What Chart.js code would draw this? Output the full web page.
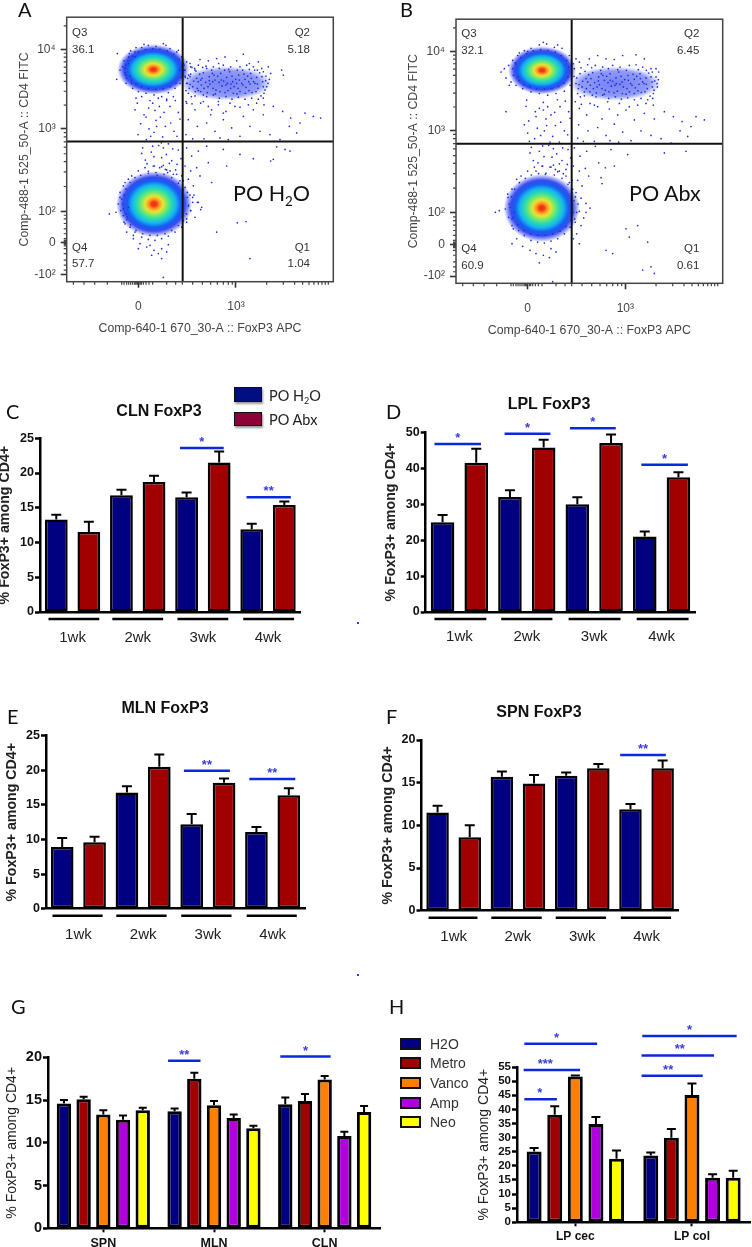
<!DOCTYPE html>
<html><head><meta charset="utf-8">
<style>
html,body{margin:0;padding:0;background:#fff;width:752px;height:1247px;overflow:hidden}
#page{position:relative;width:752px;height:1247px;overflow:hidden}
canvas{position:absolute;filter:blur(.35px)}
.t{position:absolute;white-space:nowrap;line-height:1}
.sw{position:absolute;box-sizing:border-box}
sub{font-size:.62em;line-height:0}
</style>
<script src="https://cdn.jsdelivr.net/npm/chart.js@4"></script>
</head><body><div id="page"></div>
<script>
/* ---------- bar panel data ---------- */
const weeks=['1wk','2wk','3wk','4wk'];
const cH2O=[13.3,16.8,16.5,11.9], cAbx=[11.5,18.7,21.5,15.4];
const cH2OErr=[0.7,0.8,0.7,0.8], cAbxErr=[1.5,0.9,1.6,0.5];
const cSpans=[[-.37,.41],[.61,1.39],[1.61,2.39],[2.62,3.40]];
const cSig=[[1.65,2.32,23.6,'*'],[2.67,3.35,16.5,'**']];

const dH2O=[25,32,30,21], dAbx=[41.5,45.8,47,37.5];
const dH2OErr=[2,1.9,1.9,1.4], dAbxErr=[3.9,2.1,2.4,1.4];
const dSpans=[[-.37,.40],[.62,1.38],[1.62,2.39],[2.63,3.40]];
const dSig=[[-.37,.32,46.75,'*'],[.67,1.35,49.6,'*'],[1.64,2.32,51.1,'*'],[2.70,3.39,41,'*']];

const eH2O=[8.9,16.8,12.2,11.1], eAbx=[9.6,20.5,18.2,16.4];
const eH2OErr=[1.3,0.9,1.5,0.7], eAbxErr=[0.8,1.8,0.6,1.0];
const eSpans=[[-.40,.375],[.586,1.362],[1.589,2.365],[2.60,3.373]];
const eSig=[[1.63,2.34,19.94,'**'],[2.64,3.35,18.74,'**']];

const fH2O=[11.5,15.7,15.8,11.9], fAbx=[8.6,14.9,16.7,16.7];
const fH2OErr=[0.8,0.6,0.4,0.6], fAbxErr=[1.4,1.0,0.5,0.9];
const fSpans=[[-.39,.37],[.586,1.37],[1.587,2.37],[2.60,3.38]];
const fSig=[[2.59,3.30,18.24,'**']];

const tissuesG=['SPN','MLN','CLN'];
const gH2O=[14.6,13.7,14.5], gMetro=[15.1,17.5,14.9], gVanco=[13.3,14.4,17.4], gAmp=[12.7,12.9,10.8], gNeo=[13.8,11.7,13.6];
const gH2OErr=[.4,.3,.8], gMetroErr=[.3,.7,.8], gVancoErr=[.5,.5,.4], gAmpErr=[.5,.4,.5], gNeoErr=[.3,.3,.7];
const gSig=[[.585,.878,19.6,'**'],[1.599,2.054,20.08,'*']];

const tissuesH=['LP cec','LP col'];
const hH2O=[25.1,23.7], hMetro=[38.1,29.9], hVanco=[51.6,45.1], hAmp=[34.8,15.8], hNeo=[22.5,15.8];
const hH2OErr=[1.2,1.0], hMetroErr=[3.0,3.1], hVancoErr=[.4,4.1], hAmpErr=[2.5,1.2], hNeoErr=[2.9,2.5];
const hSig=[[-.437,-.158,43.6,'*',-.304],[-.443,.041,53.95,'***',-.258],[-.437,.187,63.2,'*',-.161],
            [.568,1.092,51.9,'**',.796],[.568,1.189,59.1,'**',.896],[.574,1.383,66,'*',.979]];

/* ---------- flow cytometry data (display channels) ---------- */
const flowXMajor=[215,508], flowXLabels=['0','10³'];
const flowYMajor=[22,118,213,462,702], flowYLabels=['-10²','0','10²','10³','10⁴'];
const flowXMinor=[20,52,84,122,165,172,180,186,192,198,204,208,212,220,224,230,238,247,258,300,327,347,378,407,432,452,470,485,497,600,650,684,708,727,742,755,766,776,785];
const flowYMinor=[774,691,679,665,649,630,606,576,534,451,438,423,407,387,363,332,288,201,190,176,160,145,130,125,122,120,115,112,108,100,85,65,50,35];
const flowAGateX=348, flowAGateY=424, flowBGateX=347, flowBGateY=423;
const flowACores=[[260,642],[262,235]], flowABand=[[477,600]];
const flowBCores=[[258,645],[257,228]], flowBBand=[[477,605]];
const flowAEvents=[205,520,232,505,258,540,281,498,310,530,335,512,222,478,247,462,268,488,296,470,322,455,340,492,214,445,239,430,262,452,288,438,305,417,331,440,228,405,254,392,276,412,299,385,318,402,343,372,236,368,263,350,285,375,308,358,327,338,245,334,272,322,296,340,315,366,258,410,290,405,225,388,335,398,212,540,246,525,278,530,300,552,326,548,270,470,252,440,284,420,312,480,238,498,292,512,265,518,241,357,303,330,279,345,320,325,331,355,262,378,290,352,
360,540,385,520,410,545,432,505,455,535,478,515,505,530,530,500,560,520,590,505,620,530,648,515,672,495,700,480,365,490,392,470,420,480,445,455,470,490,495,465,520,440,550,470,580,455,610,445,640,430,668,470,690,450,715,510,740,500,762,495,358,445,378,432,412,432,460,435,485,430,
360,405,375,380,395,395,420,410,470,400,520,385,630,408,655,400,670,395,620,370,355,350,372,335,390,345,425,360,480,350,560,372,612,365,365,310,380,290,400,320,435,300,362,270,378,255,392,240,405,225,372,215,385,195,360,180,512,178,538,182,450,150,550,70,290,13,
168,650,175,632,172,668,180,615,186,680,195,600,205,695,225,708,245,715,268,712,290,720,310,705,330,695,345,680,160,640,152,690,150,612,178,600,198,585,215,575,238,570,262,565,285,560,305,572,325,585,340,600,348,625,232,718,298,715,208,708,188,690,350,660,360,665,372,650,385,640,370,620,178,655,192,698,335,700,225,560,250,548,275,555,300,548,320,560,208,555,
355,640,372,628,390,615,410,632,428,620,445,610,462,630,480,618,498,605,516,625,535,612,552,630,570,618,588,605,598,622,360,600,378,590,395,605,412,585,430,598,448,580,466,592,484,578,502,590,520,575,538,588,556,572,574,585,592,570,600,590,365,570,385,562,402,575,420,560,440,565,458,555,478,560,496,552,515,558,535,552,555,555,575,552,590,555,352,655,370,660,395,655,418,652,440,650,470,655,492,650,520,650,540,655,560,650,585,645,400,672,425,668,450,675,475,680,510,668,530,688,548,660,575,665,605,650,612,630,650,625,645,640,358,545,376,538,402,540,425,530,455,545,490,540,520,528,545,535,570,540,592,535,435,520,470,510,
165,250,155,235,148,210,128,205,170,290,178,205,185,310,160,270,172,180,190,165,205,150,225,135,245,128,265,125,285,130,305,138,325,150,345,165,360,190,372,215,378,240,370,262,355,285,340,305,195,320,215,335,235,345,260,350,285,348,310,335,330,325,350,305,180,150,200,130,220,115,240,105,262,95,285,100,300,90,215,100,250,110,275,85,305,112,255,80,285,70,170,220,365,228,382,262,395,240,402,218,
363,615,381,607,399,628,417,603,435,640,453,622,471,607,489,635,507,612,525,600,543,622,561,605,579,632,597,608,368,585,386,575,404,595,422,572,439,585,457,603,475,572,493,598,511,568,529,595,547,578,565,600,583,562,595,580,355,622,376,648,408,648,437,630,458,645,486,642,512,640,548,642,572,640,590,635,358,578,395,578,370,597,388,637,406,615,424,590,442,625,460,575,478,595,496,622,514,585,532,628,550,598,568,575,586,620,604,600,374,560,392,585,410,565,428,608,446,568,464,610,482,600,500,570,518,610,536,570,554,615,572,598,590,590,608,612,366,625,384,645,402,610,420,645,438,605,456,660,474,640,492,585,510,600,528,640,546,605,564,640,
175,175,182,195,170,200,168,235,172,262,178,280,190,300,205,315,222,322,245,328,268,330,292,325,315,315,335,298,350,278,362,255,366,232,360,205,350,185,335,170,315,155,295,145,272,140,250,140,228,145,208,155,192,172,180,188,185,225,162,215,160,255,175,300,200,140,345,320,300,338,
175,645,178,625,184,668,195,610,208,598,225,590,245,585,268,582,290,583,310,590,328,600,342,618,345,650,338,672,322,688,302,698,280,703,258,705,236,702,215,695,198,682,185,660,190,622,205,680,340,640,352,640,356,618,362,600];
const flowBEvents=[212,555,238,520,262,548,285,510,312,535,338,520,218,492,244,470,270,498,298,478,325,462,342,500,215,455,236,438,265,462,290,445,310,428,335,450,226,412,250,400,278,418,302,392,320,410,344,380,232,372,258,355,288,382,310,362,330,345,240,340,268,330,298,345,318,372,260,416,292,408,222,395,336,405,210,536,250,530,275,535,304,556,328,552,272,478,254,448,282,428,314,488,240,505,296,518,262,525,246,365,305,338,282,352,322,332,334,360,264,384,292,358,205,480,220,430,
370,530,392,510,415,540,438,498,460,528,485,510,510,525,535,495,565,515,595,498,625,520,652,505,678,490,705,475,368,480,396,462,425,472,450,448,475,482,500,458,525,432,555,462,585,448,615,438,645,425,672,462,695,445,720,505,745,495,365,440,382,430,415,430,462,432,488,428,
355,410,372,385,392,400,418,415,465,405,448,350,515,390,625,395,690,400,352,355,370,340,388,348,428,365,475,355,435,320,365,312,378,295,398,325,438,302,360,275,375,258,390,242,402,228,370,218,383,198,358,185,510,165,545,175,520,140,470,90,575,125,595,30,560,40,585,50,290,5,450,100,
135,640,150,622,165,610,158,660,170,675,185,690,205,705,225,712,250,722,272,725,295,715,318,712,340,690,345,660,180,600,200,590,225,580,250,575,275,570,300,575,325,582,145,650,190,698,160,600,215,702,262,730,305,722,150,520,
355,650,372,635,390,620,410,638,428,625,445,615,462,635,480,622,498,610,516,630,535,618,552,635,570,622,588,610,600,625,360,605,378,595,395,610,412,590,430,602,448,585,466,597,484,582,502,595,520,580,538,592,556,578,574,590,592,575,604,595,365,575,385,568,402,580,420,565,440,570,458,560,478,565,496,558,515,562,535,556,555,560,575,556,590,560,352,665,370,670,395,662,418,660,440,655,470,660,492,655,520,660,540,662,560,655,585,650,400,680,425,690,450,680,475,678,500,690,540,692,565,680,600,650,608,640,360,680,358,550,376,542,402,545,425,535,455,550,490,545,520,535,545,540,570,545,592,540,
160,240,148,225,130,220,118,215,168,285,172,200,182,315,155,270,168,175,188,160,205,145,225,130,245,125,265,122,285,128,305,135,325,150,342,170,356,195,362,215,366,240,358,262,350,285,340,305,195,325,215,340,235,352,260,355,285,352,310,340,330,325,348,312,182,135,200,112,222,100,240,90,262,85,280,78,168,120,300,95,250,62,285,105,362,150,375,175,370,120,390,215,352,135,
362,622,380,612,398,632,416,608,434,645,452,627,470,612,488,640,506,617,524,605,542,627,560,610,578,637,596,613,367,590,385,580,403,600,421,577,438,590,456,608,474,577,492,603,510,573,528,600,546,583,564,605,582,567,594,585,354,627,375,653,407,653,436,635,457,650,485,647,511,645,547,647,571,645,589,640,369,602,387,642,405,620,423,595,441,630,459,580,477,600,495,627,513,590,531,633,549,603,567,580,585,625,603,605,373,565,391,590,409,570,427,613,445,573,463,615,481,605,499,575,517,615,535,575,553,620,571,603,589,595,607,617,
172,165,168,195,162,230,166,262,176,285,190,305,208,318,226,328,248,332,270,334,295,328,318,318,336,300,348,275,354,250,352,215,345,190,330,172,312,158,290,150,268,146,246,146,224,150,204,160,186,178,175,215,158,200,156,260,
170,650,172,630,178,668,190,615,204,602,222,595,242,590,265,588,288,590,308,596,324,606,336,625,338,655,332,675,316,690,298,700,276,706,254,708,232,704,212,696,194,684,180,664,186,625,342,600];

/* ---------- shared ---------- */
const page=document.getElementById('page');
const SANS='"Liberation Sans",Arial,sans-serif', CAL='Lato,"Open Sans",sans-serif';
const NAVY='#000080', RED='#a00000', ORANGE='#ff8000', PURPLE='#b000e0', YELLOW='#ffff00', BLUE='#0a28dc';
function text(html,x,y,css,anchor){
  const d=document.createElement('div'); d.className='t'; d.innerHTML=html;
  d.style.cssText=css; d.style.left=x+'px'; d.style.top=y+'px';
  d.style.transform=anchor==='r'?'translate(-100%,-50%)':anchor==='c'?'translate(-50%,-50%)':'translateY(-50%)';
  page.appendChild(d);
}
function newCanvas(L,T,W,H){
  const c=document.createElement('canvas'); c.width=W; c.height=H;
  c.style.left=L+'px'; c.style.top=T+'px'; c.style.width=W+'px'; c.style.height=H+'px';
  page.appendChild(c); return c;
}
const pairs=a=>{const o=[];for(let i=0;i<a.length;i+=2)o.push({x:a[i],y:a[i+1]});return o;};

/* ---------- marks drawn through the chart's scales ---------- */
const panelMarks={id:'panelMarks',
  afterLayout(chart,args,o){
    const t=chart.titleBlock;
    if(t&&o.title){t.left=o.title.x-150;t.right=o.title.x+150;t.top=o.title.y-9.6;t.bottom=o.title.y+9.6;}
  },
  afterDatasetsDraw(chart,args,o){
    const ctx=chart.ctx,xs=chart.scales.x,ys=chart.scales.y;
    ctx.save();
    ctx.strokeStyle='#000';ctx.lineWidth=2;ctx.lineCap='butt';
    (o.errors||[]).forEach((errs,i)=>{
      const meta=chart.getDatasetMeta(i),vals=chart.data.datasets[i].data;
      errs.forEach((e,j)=>{
        const b=meta.data[j],top=ys.getPixelForValue(vals[j]+e);
        ctx.beginPath();ctx.moveTo(b.x,b.y);ctx.lineTo(b.x,top);
        ctx.moveTo(b.x-o.cap,top);ctx.lineTo(b.x+o.cap,top);ctx.stroke();
      });
    });
    const base=ys.getPixelForValue(0);
    ctx.lineWidth=2.5;
    (o.spans||[]).forEach(s=>{
      ctx.beginPath();ctx.moveTo(xs.getPixelForValue(s[0]),base+o.spanGap);ctx.lineTo(xs.getPixelForValue(s[1]),base+o.spanGap);ctx.stroke();
    });
    ctx.strokeStyle=BLUE;ctx.fillStyle='#3a3ae0';ctx.font='bold 13px '+SANS;ctx.textAlign='center';ctx.textBaseline='alphabetic';
    (o.sig||[]).forEach(s=>{
      const y=ys.getPixelForValue(s[2]),x0=xs.getPixelForValue(s[0]),x1=xs.getPixelForValue(s[1]);
      ctx.beginPath();ctx.moveTo(x0,y);ctx.lineTo(x1,y);ctx.stroke();
      const sx=s[4]!==undefined?xs.getPixelForValue(s[4]):(x0+x1)/2;
      ctx.fillText(s[3],sx,y-2);
    });
    ctx.restore();
  }
};

function barChart(c){
  const topM=70,titleH=c.title?19.2:0;
  const L=Math.floor(c.axisX-12),T=Math.floor(c.plotTop)-topM;
  const W=Math.ceil(c.plotRight)+22-L,H=Math.ceil(c.plotBottom+c.xH-T);
  const cv=newCanvas(L,T,W,H);
  new Chart(cv,{type:'bar',
    data:{labels:c.labels,datasets:c.series.map(s=>({data:s.v,backgroundColor:s.color,borderColor:'#000',borderWidth:c.bw,borderSkipped:false}))},
    options:{responsive:false,animation:false,devicePixelRatio:1,
      categoryPercentage:c.catPct,barPercentage:c.barPct,
      layout:{padding:{top:c.plotTop-T-titleH,right:L+W-c.plotRight,left:0,bottom:0}},
      plugins:{legend:{display:false},tooltip:{enabled:false},
        title:{display:!!c.title,text:c.title,color:'#111',padding:0,font:{family:SANS,weight:'bold',size:16,lineHeight:1.2}},
        panelMarks:{title:c.title?{x:c.titleX-L,y:c.titleY-T}:null,errors:c.series.map(s=>s.e),cap:c.cap,spans:c.spans,spanGap:c.spanGap,sig:c.sig}},
      scales:{
        x:{type:'category',offset:true,
          afterFit(s){s.height=H-(c.plotBottom-T);},
          border:{color:'#000',width:2.5},
          grid:{display:true,offset:false,drawOnChartArea:false,drawTicks:!!c.xTick,tickLength:c.xTick||0,tickColor:'#000',tickWidth:2,color:'#000'},
          ticks:{autoSkip:false,maxRotation:0,padding:c.xPad,color:c.xColor,font:{family:SANS,size:c.xSize,weight:c.xWeight}}},
        y:{type:'linear',min:0,max:c.max,
          afterFit(s){s.width=c.plotLeft-L;},
          border:{color:'#000',width:2.5},
          grid:{drawOnChartArea:false,tickLength:5,tickColor:'#000',tickWidth:2.5,color:'#000'},
          ticks:{autoSkip:false,stepSize:c.step,padding:1,color:'#111',font:{family:SANS,size:c.ySize,weight:'bold'}},
          title:{display:true,text:'% FoxP3+ among CD4+',color:'#222',padding:{top:3.6,bottom:0},font:{family:SANS,size:c.yTitleSize,weight:c.yTitleWeight,lineHeight:1.2}}}
      }},
    plugins:[panelMarks]});
}
const two=(a,ae,b,be)=>[{v:a,e:ae,color:NAVY},{v:b,e:be,color:RED}];
const weekOpts={labels:weeks,bw:2.5,catPct:1,barPct:.7,cap:5,spanGap:7,xH:45,xPad:17,xColor:'#222',xSize:15,xWeight:'normal',ySize:12.5,yTitleSize:14.2,yTitleWeight:'bold'};
barChart({...weekOpts,plotLeft:40,plotRight:300.6,plotTop:438.3,plotBottom:612,max:25,step:5,axisX:5,title:'CLN FoxP3',titleX:159,titleY:412,series:two(cH2O,cH2OErr,cAbx,cAbxErr),spans:cSpans,sig:cSig});
barChart({...weekOpts,plotLeft:425.7,plotRight:695.3,plotTop:432.3,plotBottom:612,max:50,step:10,axisX:391.7,title:'LPL FoxP3',titleX:549,titleY:405,series:two(dH2O,dH2OErr,dAbx,dAbxErr),spans:dSpans,sig:dSig,xPad:16});
barChart({...weekOpts,plotLeft:46,plotRight:305,plotTop:735.7,plotBottom:908.7,max:25,step:5,axisX:12.7,title:'MLN FoxP3',titleX:165,titleY:709,series:two(eH2O,eH2OErr,eAbx,eAbxErr),spans:eSpans,sig:eSig});
barChart({...weekOpts,plotLeft:421.5,plotRight:678.7,plotTop:740,plotBottom:910.7,max:20,step:5,axisX:388.7,title:'SPN FoxP3',titleX:539,titleY:713,series:two(fH2O,fH2OErr,fAbx,fAbxErr),spans:fSpans,sig:fSig});
const five=(p)=>[{v:p[0],e:p[5],color:NAVY},{v:p[1],e:p[6],color:RED},{v:p[2],e:p[7],color:ORANGE},{v:p[3],e:p[8],color:PURPLE},{v:p[4],e:p[9],color:YELLOW}];
barChart({labels:tissuesG,bw:3,catPct:.89,barPct:.73,cap:4,spanGap:0,xH:30,xTick:4,xPad:4,xColor:'#111',xSize:12.5,xWeight:'bold',ySize:14.5,yTitleSize:14,yTitleWeight:'normal',
  plotLeft:48,plotRight:380,plotTop:1057.3,plotBottom:1228.3,max:20,step:5,axisX:12.7,
  series:five([gH2O,gMetro,gVanco,gAmp,gNeo,gH2OErr,gMetroErr,gVancoErr,gAmpErr,gNeoErr]),spans:[],sig:gSig});
barChart({labels:tissuesH,bw:3,catPct:.883,barPct:.726,cap:4.5,spanGap:0,xH:30,xTick:4,xPad:3.5,xColor:'#111',xSize:12,xWeight:'bold',ySize:11.5,yTitleSize:14,yTitleWeight:'normal',
  plotLeft:517,plotRight:750.3,plotTop:1067,plotBottom:1222.3,max:55,step:5,axisX:484,
  series:five([hH2O,hMetro,hVanco,hAmp,hNeo,hH2OErr,hMetroErr,hVancoErr,hAmpErr,hNeoErr]),spans:[],sig:hSig});

/* ---------- flow plots ---------- */
function blobCanvas(rx,ry,stops){
  const c=document.createElement('canvas');c.width=Math.ceil(rx*2);c.height=Math.ceil(ry*2);
  const g=c.getContext('2d');g.translate(c.width/2,c.height/2);g.scale(rx,ry);
  const gr=g.createRadialGradient(0,0,0,0,0,1);stops.forEach(s=>gr.addColorStop(s[0],s[1]));
  g.fillStyle=gr;g.beginPath();g.arc(0,0,1,0,Math.PI*2);g.fill();return c;
}
const JET=[[0,'#ec2a14'],[.07,'#f43c14'],[.15,'#ff9a24'],[.24,'#e6e634'],[.34,'#80e868'],[.46,'#28dcb0'],[.58,'#18b4f0'],[.7,'#1460f0'],[.82,'rgba(22,44,235,.85)'],[.92,'rgba(28,48,235,.4)'],[1,'rgba(30,50,235,0)']];
const BAND=[[0,'rgba(30,50,235,.62)'],[.75,'rgba(34,54,236,.5)'],[1,'rgba(40,60,240,0)']];
const flowAxes={id:'flowAxes',
  afterDatasetsDraw(chart){
    const {ctx,chartArea:a,scales:{x,y}}=chart;
    ctx.save();ctx.strokeStyle='#444';ctx.lineWidth=1.5;
    ctx.strokeRect(a.left,a.top,a.right-a.left,a.bottom-a.top);
    ctx.lineWidth=1.2;ctx.beginPath();
    flowXMinor.forEach(v=>{const p=x.getPixelForValue(v);ctx.moveTo(p,a.bottom);ctx.lineTo(p,a.bottom+3);});
    flowYMinor.forEach(v=>{const p=y.getPixelForValue(v);ctx.moveTo(a.left,p);ctx.lineTo(a.left-3,p);});
    ctx.stroke();ctx.restore();
  }};
function flowChart(f){
  const L=Math.floor(f.axisX-12),T=f.plotTop-10,W=Math.ceil(f.plotRight)+22-L,H=Math.ceil(f.plotBottom+54-T);
  const cv=newCanvas(L,T,W,H);
  const gate=(pts)=>({type:'scatter',showLine:true,data:pts,borderColor:'#111',borderWidth:2,pointRadius:0,order:0});
  new Chart(cv,{type:'scatter',
    data:{datasets:[
      gate([{x:f.gateX,y:0},{x:f.gateX,y:800}]),
      gate([{x:0,y:f.gateY},{x:800,y:f.gateY}]),
      {data:pairs(f.events),pointRadius:.85,pointBorderWidth:0,backgroundColor:'#1c2ee6',order:1},
      {data:f.cores.map(p=>({x:p[0],y:p[1]})),pointStyle:[blobCanvas(f.rx[0],f.ry[0],JET),blobCanvas(f.rx[1],f.ry[1],JET)],pointRadius:10,order:2},
      {data:f.band.map(p=>({x:p[0],y:p[1]})),pointStyle:blobCanvas(46,17,BAND),pointRadius:10,order:3}
    ]},
    options:{responsive:false,animation:false,devicePixelRatio:1,
      layout:{padding:{top:10,right:L+W-f.plotRight,left:0,bottom:0}},
      plugins:{legend:{display:false},tooltip:{enabled:false}},
      scales:{
        x:{type:'linear',min:0,max:800,
          afterBuildTicks(s){s.ticks=flowXMajor.map(v=>({value:v}));},
          afterFit(s){s.height=H-(f.plotBottom-T);},
          border:{display:false},
          grid:{drawOnChartArea:false,tickLength:6,tickColor:'#333',tickWidth:1.6},
          ticks:{autoSkip:false,maxRotation:0,padding:12,color:'#444',font:{family:SANS,size:12},callback:v=>flowXLabels[flowXMajor.indexOf(v)]},
          title:{display:true,text:'Comp-640-1 670_30-A :: FoxP3 APC',color:'#444',padding:{top:0,bottom:0},font:{family:SANS,size:12.3,lineHeight:1.2}}},
        y:{type:'linear',min:0,max:800,
          afterBuildTicks(s){s.ticks=flowYMajor.map(v=>({value:v}));},
          afterFit(s){s.width=f.plotLeft-L;},
          border:{display:false},
          grid:{drawOnChartArea:false,tickLength:6,tickColor:'#333',tickWidth:1.6},
          ticks:{autoSkip:false,padding:5,color:'#444',font:{family:SANS,size:12},callback:v=>flowYLabels[flowYMajor.indexOf(v)]},
          title:{display:true,text:'Comp-488-1 525_50-A :: CD4 FITC',color:'#444',padding:{top:6,bottom:0},font:{family:SANS,size:12.3,lineHeight:1.2}}}
      }},
    plugins:[flowAxes]});
}
flowChart({plotLeft:66.7,plotRight:333.3,plotTop:15,plotBottom:281.7,axisX:23.3,gateX:flowAGateX,gateY:flowAGateY,events:flowAEvents,cores:flowACores,band:flowABand,rx:[36,38],ry:[25,33]});
flowChart({plotLeft:456,plotRight:722.7,plotTop:17,plotBottom:283.3,axisX:412.7,gateX:flowBGateX,gateY:flowBGateY,events:flowBEvents,cores:flowBCores,band:flowBBand,rx:[34,38],ry:[24,34]});

/* ---------- text & legends ---------- */
const q='font:11.5px '+SANS+';color:#333;';
[['Q3',72,32.3],['36.1',72,49.3],['Q4',72,246.7],['57.7',72,263.3],['Q3',461.3,33.3],['32.1',461.3,50],['Q4',461.3,248.3],['60.9',461.3,265]]
  .forEach(a=>text(a[0],a[1],a[2],q));
[['Q2',310,32.3],['5.18',310,49.3],['Q1',310,246.7],['1.04',310,263.3],['Q2',699.3,33.3],['6.45',699.3,50],['Q1',699.3,248.3],['0.61',699.3,265]]
  .forEach(a=>text(a[0],a[1],a[2],q,'r'));
const big='font:21.5px '+CAL+';color:#111;';
text('PO H<sub>2</sub>O',233,193,big);
text('PO Abx',629,192.7,big);
const letter='font:20px '+CAL+';color:#111;';
[['A',18,9],['B',400,9],['C',6,411],['D',386,411],['E',7,716],['F',386,716],['G',11,1006],['H',389,1006]]
  .forEach(a=>text(a[0],a[1],a[2],letter));
function swatch(x,y,w,h,color,bw,shadow){
  const d=document.createElement('div');d.className='sw';
  d.style.cssText='left:'+x+'px;top:'+y+'px;width:'+w+'px;height:'+h+'px;background:'+color+';border:'+bw+'px solid #111;'+(shadow?'box-shadow:1px 2px 2px #999;':'');
  page.appendChild(d);
}
swatch(234,387,28,15,'#000f80',1,true);swatch(234,412,28,14,'#8e0038',1,true);
const lg='font:14.5px '+CAL+';color:#222;';
text('PO H<sub>2</sub>O',269,395,lg);text('PO Abx',269,419,lg);
const legendNames=['H2O','Metro','Vanco','Amp','Neo'],legendColors=[NAVY,RED,ORANGE,PURPLE,YELLOW],legendY=[1044,1063,1083,1103,1122];
legendNames.forEach((n,i)=>{swatch(400,legendY[i]-6,21,12,legendColors[i],2.5);text(n,430,legendY[i],'font:14px '+SANS+';color:#333;');});
swatch(357,622,1.5,1.5,'#3a3ae0',0);swatch(357,974,1.5,1.5,'#3a3ae0',0);
</script></body></html>
